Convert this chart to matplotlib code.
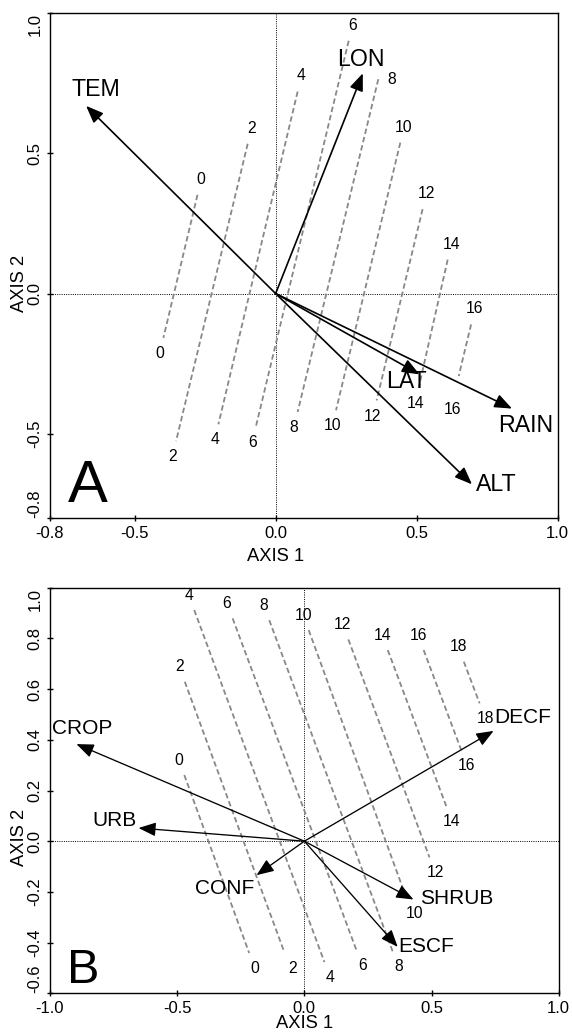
import matplotlib
matplotlib.use("Agg")
import matplotlib.pyplot as plt
import matplotlib.transforms as mtransforms
import numpy as np

plt.rcParams['font.family'] = ['Liberation Sans', 'DejaVu Sans']
plt.rcParams['axes.unicode_minus'] = False

# ---------------- Panel A data ----------------
A_vars = ['TEM', 'LON', 'LAT', 'RAIN', 'ALT']
A_x = [-0.672, 0.309, 0.510, 0.838, 0.696]
A_y = [0.669, 0.785, -0.288, -0.410, -0.680]

A_levels = [0, 2, 4, 6, 8, 10, 12, 14, 16]
A_top_x = [-0.277, -0.099, 0.078, 0.259, 0.364, 0.442, 0.521, 0.610, 0.693]
A_top_y = [0.352, 0.534, 0.720, 0.901, 0.764, 0.538, 0.301, 0.121, -0.110]
A_bot_x = [-0.398, -0.353, -0.203, -0.070, 0.078, 0.214, 0.358, 0.507, 0.649]
A_bot_y = [-0.158, -0.526, -0.466, -0.474, -0.422, -0.416, -0.381, -0.336, -0.294]

A_xticks = [-0.8, -0.5, 0.0, 0.5, 1.0]
A_yticks = [-0.8, -0.5, 0.0, 0.5, 1.0]

# ---------------- Panel B data ----------------
B_vars = ['CROP', 'URB', 'CONF', 'SHRUB', 'ESCF', 'DECF']
B_x = [-0.896, -0.652, -0.188, 0.429, 0.367, 0.744]
B_y = [0.383, 0.052, -0.134, -0.230, -0.417, 0.435]

B_levels = [0, 2, 4, 6, 8, 10, 12, 14, 16, 18]
B_top_x = [-0.472, -0.470, -0.433, -0.282, -0.138, 0.017, 0.173, 0.328, 0.469, 0.627]
B_top_y = [0.261, 0.629, 0.912, 0.879, 0.872, 0.833, 0.796, 0.754, 0.754, 0.708]
B_bot_x = [-0.217, -0.079, 0.079, 0.206, 0.348, 0.390, 0.492, 0.558, 0.617, 0.689]
B_bot_y = [-0.441, -0.437, -0.477, -0.433, -0.437, -0.193, -0.064, 0.138, 0.359, 0.544]

B_xticks = [-1.0, -0.5, 0.0, 0.5, 1.0]
B_yticks = [-0.6, -0.4, -0.2, 0.0, 0.2, 0.4, 0.6, 0.8, 1.0]

W, H = 572, 1035
fig = plt.figure(figsize=(W / 100, H / 100), dpi=100)


def px_axes(l, t, r, b):
    return fig.add_axes([l / W, 1 - b / H, (r - l) / W, (b - t) / H])


axA = px_axes(50, 13, 557.7, 518)
axB = px_axes(50, 587.7, 558.7, 993.3)

DASH_COL = '#888888'


def setup(ax, xlim, ylim, xt, yt):
    ax.set_xlim(*xlim)
    ax.set_ylim(*ylim)
    ax.set_xticks(xt)
    ax.set_yticks(yt)
    ax.set_xticklabels(['%.1f' % v for v in xt], fontsize=12)
    ylabs = ax.set_yticklabels(['%.1f' % v for v in yt], fontsize=12,
                               rotation=90, va='center')
    ylabs[0].set_va('bottom')
    ylabs[-1].set_va('top')
    ax.tick_params(direction='inout', length=5, width=1.0, pad=3, color='k')
    for s in ax.spines.values():
        s.set_linewidth(1.0)
        s.set_color('k')
    ax.axhline(0, color='k', lw=0.7, ls=(0, (1, 1.3)), zorder=1)
    ax.axvline(0, color='k', lw=0.7, ls=(0, (1, 1.3)), zorder=1)


def contours(ax, levels, tx, ty, bx, by, overrides, fs=11.3, dist=16):
    for i, lev in enumerate(levels):
        ax.plot([tx[i], bx[i]], [ty[i], by[i]], color=DASH_COL, lw=1.3,
                ls=(0, (3, 1.7)), zorder=2)
        p_top = ax.transData.transform((tx[i], ty[i]))
        p_bot = ax.transData.transform((bx[i], by[i]))
        d = p_top - p_bot
        d = d / np.hypot(*d)
        for which, pt, sgn in (('top', (tx[i], ty[i]), 1), ('bot', (bx[i], by[i]), -1)):
            off = overrides.get((which, lev), tuple(sgn * dist * d))
            ax.annotate(str(lev), xy=pt, xytext=off, textcoords='offset pixels',
                        ha='center', va='center', fontsize=fs, zorder=3)


def arrows(ax, names, xs, ys, offs, fs, lw):
    for n, x, y in zip(names, xs, ys):
        ax.annotate('', xy=(x, y), xytext=(0, 0),
                    arrowprops=dict(arrowstyle='-|>,head_length=0.75,head_width=0.3',
                                    mutation_scale=14, lw=lw, color='k',
                                    shrinkA=0, shrinkB=0), zorder=4)
        ax.annotate(n, xy=(x, y), xytext=offs[n], textcoords='offset pixels',
                    ha='center', va='center', fontsize=fs, zorder=5)


# ---------- Panel A ----------
setup(axA, (-0.8, 1.0), (-0.8, 1.0), A_xticks, A_yticks)
contours(axA, A_levels, A_top_x, A_top_y, A_bot_x, A_bot_y,
         {('top', 8): (13, 0), ('bot', 16): (-6, -33)})
arrows(axA, A_vars, A_x, A_y,
       {'TEM': (10, 16), 'LON': (-2, 14), 'LAT': (-13, -7),
        'RAIN': (14, -17), 'ALT': (24, 0)}, 16.7, 1.2)
axA.text(0.075, 0.031, 'A', transform=axA.transAxes, fontsize=43,
         ha='center', va='baseline')
trA = mtransforms.blended_transform_factory(axA.transData, axA.transAxes)
axA.text(0.0, -0.0846, 'AXIS 1', transform=trA, ha='center', va='baseline',
         fontsize=13.2)
trA2 = mtransforms.blended_transform_factory(axA.transAxes, axA.transData)
axA.text(-0.061, 0.036, 'AXIS 2', transform=trA2, ha='center', va='center',
         rotation=90, fontsize=13.2)

# ---------- Panel B ----------
setup(axB, (-1.0, 1.0), (-0.6, 1.0), B_xticks, B_yticks)
contours(axB, B_levels, B_top_x, B_top_y, B_bot_x, B_bot_y,
         {('bot', 10): (11, -23), ('bot', 2): (8, -17)})
arrows(axB, B_vars, B_x, B_y,
       {'CROP': (6, 16), 'URB': (-24, 8), 'CONF': (-32, -13),
        'SHRUB': (43, 1), 'ESCF': (28, 0), 'DECF': (29, 13)}, 15.0, 0.95)
axB.text(0.0655, 0.026, 'B', transform=axB.transAxes, fontsize=35,
         ha='center', va='baseline')
trB = mtransforms.blended_transform_factory(axB.transData, axB.transAxes)
axB.text(0.0, -0.0845, 'AXIS 1', transform=trB, ha='center', va='baseline',
         fontsize=13.2)
trB2 = mtransforms.blended_transform_factory(axB.transAxes, axB.transData)
axB.text(-0.059, 0.014, 'AXIS 2', transform=trB2, ha='center', va='center',
         rotation=90, fontsize=13.2)

fig.savefig('out.png', dpi=100)
